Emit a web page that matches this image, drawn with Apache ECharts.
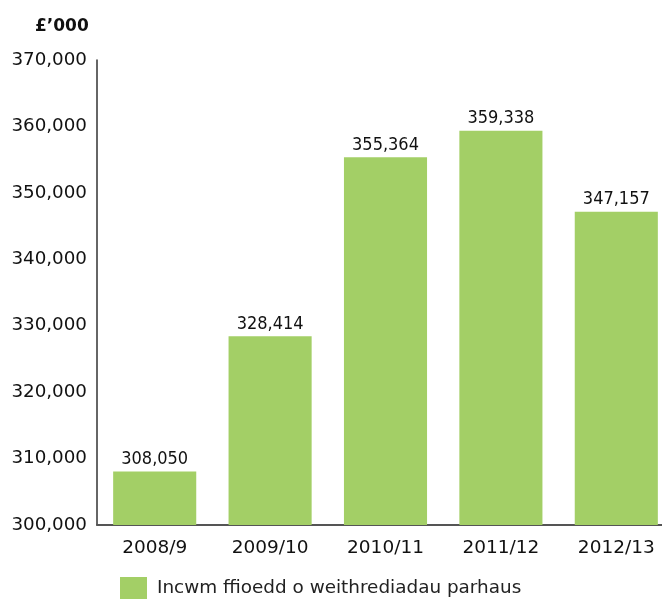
<!DOCTYPE html>
<html><head><meta charset="utf-8">
<script src="https://cdn.jsdelivr.net/npm/echarts@6/dist/echarts.min.js"></script>
<style>html,body{margin:0;padding:0;background:#fff;overflow:hidden}#c{width:662px;height:604px}</style>
</head><body><div id="c"></div>
<script>
const categories = ['2008/9', '2009/10', '2010/11', '2011/12', '2012/13'];
const values = [308050, 328414, 355364, 359338, 347157];
const seriesName = 'Incwm ffioedd o weithrediadau parhaus';
const unitLabel = '£’000';

const chart = echarts.init(document.getElementById('c'));
const fmt = v => v.toLocaleString('en-GB');
chart.setOption({
  animation: false,
  title: { text: unitLabel, left: 30, top: 13, textStyle: { fontFamily: 'DejaVu Sans', fontWeight: 'bold', fontSize: 17, color: '#111' } },
  grid: { left: 97, width: 577, top: 60, bottom: 79, containLabel: false, outerBoundsMode: 'none' },
  legend: {
    bottom: 0, left: 115, itemWidth: 27, itemHeight: 22, itemGap: 10,
    icon: 'rect',
    textStyle: { fontFamily: 'DejaVu Sans', fontSize: 18.4, color: '#222', padding: [0, 0, 0, 5] },
    data: [seriesName]
  },
  xAxis: {
    type: 'category', data: categories,
    axisLine: { lineStyle: { color: '#555', width: 2 } },
    axisTick: { show: false },
    axisLabel: { fontFamily: 'DejaVu Sans', fontSize: 18.5, color: '#111', margin: 14 }
  },
  yAxis: {
    type: 'value', min: 300000, max: 370000, interval: 10000,
    axisLine: { show: true, lineStyle: { color: '#333', width: 1.5 } },
    axisTick: { show: false },
    splitLine: { show: false },
    axisLabel: { fontFamily: 'DejaVu Sans', fontSize: 18.3, color: '#111', margin: 10, formatter: v => fmt(v) }
  },
  series: [{
    name: seriesName, type: 'bar', data: values, barWidth: '72%',
    itemStyle: { color: '#a3cf66' },
    label: { show: true, position: 'top', distance: 3, fontFamily: 'DejaVu Sans Condensed', fontSize: 18, color: '#111', formatter: p => fmt(p.value) }
  }]
});
</script></body></html>
